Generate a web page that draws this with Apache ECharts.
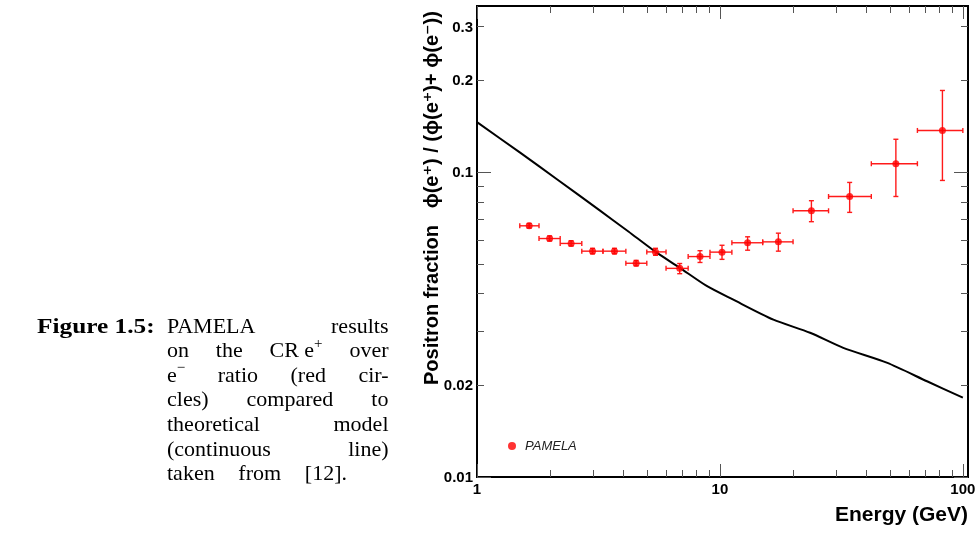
<!DOCTYPE html>
<html>
<head>
<meta charset="utf-8">
<script src="https://cdn.jsdelivr.net/npm/echarts@6.0.0/dist/echarts.min.js"></script>
<style>
  html, body { margin: 0; padding: 0; background: #fff; }
  #chart { position: absolute; left: 0; top: 0; width: 978px; height: 533px; }
  #cap { position: absolute; left: 0; top: 0; width: 420px; height: 533px; font-family: "Liberation Serif", "DejaVu Serif", serif; font-size: 22px; color: #000; z-index: 5; }
  #cap .lab { position: absolute; left: 37px; top: 313.6px; line-height: 24.6px; height: 24.6px; font-weight: bold; transform: scaleX(1.15); transform-origin: left center; white-space: nowrap; }
  #cap .ln { position: absolute; left: 167px; width: 221.5px; height: 24.6px; line-height: 24.6px; display: flex; justify-content: space-between; white-space: nowrap; }
  #cap sup { font-size: 15px; line-height: 0; position: relative; top: -1px; }
</style>
</head>
<body>
<div id="chart"></div>
<div id="cap">
  <div class="lab">Figure 1.5:</div>
  <div class="ln" style="top:313.6px"><span>PAMELA</span><span>results</span></div>
  <div class="ln" style="top:338.2px"><span>on</span><span>the</span><span>CR e<sup>+</sup></span><span>over</span></div>
  <div class="ln" style="top:362.8px"><span>e<sup>&minus;</sup></span><span>ratio</span><span>(red</span><span>cir-</span></div>
  <div class="ln" style="top:387.4px"><span>cles)</span><span>compared</span><span>to</span></div>
  <div class="ln" style="top:412.0px"><span>theoretical</span><span>model</span></div>
  <div class="ln" style="top:436.6px"><span>(continuous</span><span>line)</span></div>
  <div class="ln" style="top:461.2px; width:180px"><span>taken</span><span>from</span><span>[12].</span></div>
</div>
<script>
// ---- data ----
const energy    = [1.64, 1.99, 2.44, 2.99, 3.68, 4.52, 5.43, 6.83, 8.28, 10.2, 13.0, 17.4, 23.8, 34.2, 53.0, 82.4];
const energyLow = [1.5, 1.8, 2.2, 2.7, 3.3, 4.1, 5.0, 6.0, 7.4, 9.1, 11.2, 15.0, 20.0, 28.0, 42.0, 65.0];
const energyHigh= [1.8, 2.2, 2.7, 3.3, 4.1, 5.0, 6.0, 7.4, 9.1, 11.2, 15.0, 20.0, 28.0, 42.0, 65.0, 100.0];
const fraction  = [0.0666, 0.0605, 0.0583, 0.0550, 0.0550, 0.0502, 0.0547, 0.0483, 0.0528, 0.0546, 0.0586, 0.0590, 0.0746, 0.0831, 0.1064, 0.1368];
const fracLow   = [0.0655, 0.0594, 0.0572, 0.0539, 0.0539, 0.0492, 0.0533, 0.0464, 0.0505, 0.0517, 0.0554, 0.0550, 0.0687, 0.0737, 0.0831, 0.0938];
const fracHigh  = [0.0678, 0.0617, 0.0595, 0.0562, 0.0562, 0.0513, 0.0562, 0.0501, 0.0552, 0.0575, 0.0613, 0.0630, 0.0805, 0.0924, 0.1280, 0.1850];

const modelEnergy = [1.0, 1.5, 2.14, 3.2, 4.2, 5.4, 6.84, 8.82, 11.3, 16.6, 23.5, 32.2, 48.6, 71.2, 100];
const modelFrac   = [0.1456, 0.1159, 0.0945, 0.0748, 0.0638, 0.0549, 0.0485, 0.0423, 0.0382, 0.0328, 0.0297, 0.0265, 0.0237, 0.0206, 0.0182];

const xMajorTicks = [1, 10, 100];
const xMinorTicks = [2, 3, 4, 5, 6, 7, 8, 9, 20, 30, 40, 50, 60, 70, 80, 90];
const xTickLabels = ['1', '10', '100'];
const yMajorTicks = [0.01, 0.1];
const yMinorTicks = [0.02, 0.03, 0.04, 0.05, 0.06, 0.07, 0.08, 0.09, 0.2, 0.3];
const yLabelValues = [0.01, 0.02, 0.1, 0.2, 0.3];
const yTickLabels = ['0.01', '0.02', '0.1', '0.2', '0.3'];

const X_MIN = 1, X_MAX = 105, Y_MIN = 0.01, Y_MAX = 0.35;
const LABEL_FONT = 'bold 15px "Liberation Sans", Arial, sans-serif';
const TICK_COLOR = '#555';

const chart = echarts.init(document.getElementById('chart'), null, { renderer: 'canvas' });

const xTickData = xMajorTicks.map(v => [v, Y_MIN, 1]).concat(xMinorTicks.map(v => [v, Y_MIN, 0]));
const yTickData = yMajorTicks.map(v => [X_MIN, v, 1]).concat(yMinorTicks.map(v => [X_MIN, v, 0]));
const xLabelData = xMajorTicks.map((v, i) => [v, Y_MIN, i]);
const yLabelData = yLabelValues.map((v, i) => [X_MIN, v, i]);
const errData = energy.map((e, i) => [e, fraction[i], energyLow[i], energyHigh[i], fracLow[i], fracHigh[i]]);

function line(x1, y1, x2, y2, stroke, w) {
  return { type: 'line', shape: { x1, y1, x2, y2 }, style: { stroke, lineWidth: w } };
}

const option = {
  backgroundColor: '#fff',
  animation: false,
  grid: { left: 477, right: 10, top: 6, bottom: 56, show: true, borderColor: '#000', borderWidth: 2, backgroundColor: 'transparent' },
  xAxis: { type: 'log', logBase: 10, min: X_MIN, max: X_MAX,
    axisLine: { show: false }, axisTick: { show: false }, axisLabel: { show: false }, splitLine: { show: false } },
  yAxis: { type: 'log', logBase: 10, min: Y_MIN, max: Y_MAX,
    axisLine: { show: false }, axisTick: { show: false }, axisLabel: { show: false }, splitLine: { show: false } },
  legend: {
    data: ['PAMELA'], left: 508, top: 439, padding: 0, icon: 'circle', itemWidth: 8, itemHeight: 8,
    textStyle: { fontFamily: '"Liberation Sans", Arial, sans-serif', fontStyle: 'italic', fontSize: 13, color: '#222', padding: [0, 0, 0, 4], lineHeight: 14 }
  },
  graphic: [
    { type: 'text', x: 432, y: 385, rotation: Math.PI / 2, z: 10,
      style: { text: 'Positron fraction   \u03d5(e\u207a) / (\u03d5(e\u207a)+ \u03d5(e\u207b))', font: 'bold 20px "Liberation Sans", "DejaVu Sans", sans-serif', fill: '#000', align: 'left', verticalAlign: 'middle' } },
    { type: 'text', x: 968, y: 515, z: 10,
      style: { text: 'Energy (GeV)', font: 'bold 21px "Liberation Sans", Arial, sans-serif', fill: '#000', align: 'right', verticalAlign: 'middle' } }
  ],
  series: [
    { name: 'Model', type: 'line', data: modelEnergy.map((e, i) => [e, modelFrac[i]]), showSymbol: false, symbol: 'none',
      smooth: 0.25, lineStyle: { color: '#000', width: 2, join: 'round' }, z: 2, silent: true },
    { name: 'errors', type: 'custom', data: errData, encode: { x: 0, y: 1 }, z: 3, silent: true, clip: false,
      renderItem: function (params, api) {
        const x = api.value(0), y = api.value(1);
        const pl = api.coord([api.value(2), y]), pr = api.coord([api.value(3), y]);
        const pb = api.coord([x, api.value(4)]), pt = api.coord([x, api.value(5)]);
        const c = '#ff1a1a', w = 1.4, cap = 2.5;
        return { type: 'group', children: [
          line(pl[0], pl[1], pr[0], pr[1], c, w),
          line(pl[0], pl[1] - cap, pl[0], pl[1] + cap, c, w),
          line(pr[0], pr[1] - cap, pr[0], pr[1] + cap, c, w),
          line(pb[0], pb[1], pt[0], pt[1], c, w),
          line(pb[0] - cap, pb[1], pb[0] + cap, pb[1], c, w),
          line(pt[0] - cap, pt[1], pt[0] + cap, pt[1], c, w)
        ] };
      } },
    { name: 'PAMELA', type: 'scatter', data: energy.map((e, i) => [e, fraction[i]]), symbol: 'circle', symbolSize: 7,
      itemStyle: { color: '#ff0000' }, z: 4, silent: true },
    { name: 'xticks', type: 'custom', data: xTickData, encode: { x: 0, y: 1 }, z: 5, silent: true, clip: false,
      renderItem: function (params, api) {
        const v = api.value(0), len = api.value(2) ? 13 : 7;
        const b = api.coord([v, Y_MIN]), t = api.coord([v, Y_MAX]);
        const xx = Math.round(b[0]) + 0.5;
        return { type: 'group', children: [
          line(xx, b[1], xx, b[1] - len, TICK_COLOR, 1),
          line(xx, t[1], xx, t[1] + len, TICK_COLOR, 1)
        ] };
      } },
    { name: 'yticks', type: 'custom', data: yTickData, encode: { x: 0, y: 1 }, z: 5, silent: true, clip: false,
      renderItem: function (params, api) {
        const v = api.value(1), len = api.value(2) ? 14 : 7;
        const l = api.coord([X_MIN, v]), r = api.coord([X_MAX, v]);
        const yy = Math.round(l[1]) + 0.5;
        return { type: 'group', children: [
          line(l[0], yy, l[0] + len, yy, TICK_COLOR, 1),
          line(r[0], yy, r[0] - len, yy, TICK_COLOR, 1)
        ] };
      } },
    { name: 'xlabels', type: 'custom', data: xLabelData, encode: { x: 0, y: 1 }, z: 6, silent: true, clip: false,
      renderItem: function (params, api) {
        const p = api.coord([api.value(0), Y_MIN]);
        return { type: 'text', x: p[0], y: p[1] + 5,
          style: { text: xTickLabels[api.value(2)], font: LABEL_FONT, fill: '#000', align: 'center', verticalAlign: 'top' } };
      } },
    { name: 'ylabels', type: 'custom', data: yLabelData, encode: { x: 0, y: 1 }, z: 6, silent: true, clip: false,
      renderItem: function (params, api) {
        const p = api.coord([X_MIN, api.value(1)]);
        return { type: 'text', x: p[0] - 4, y: p[1] + 1,
          style: { text: yTickLabels[api.value(2)], font: LABEL_FONT, fill: '#000', align: 'right', verticalAlign: 'middle' } };
      } }
  ]
};
chart.setOption(option);
</script>
</body>
</html>
